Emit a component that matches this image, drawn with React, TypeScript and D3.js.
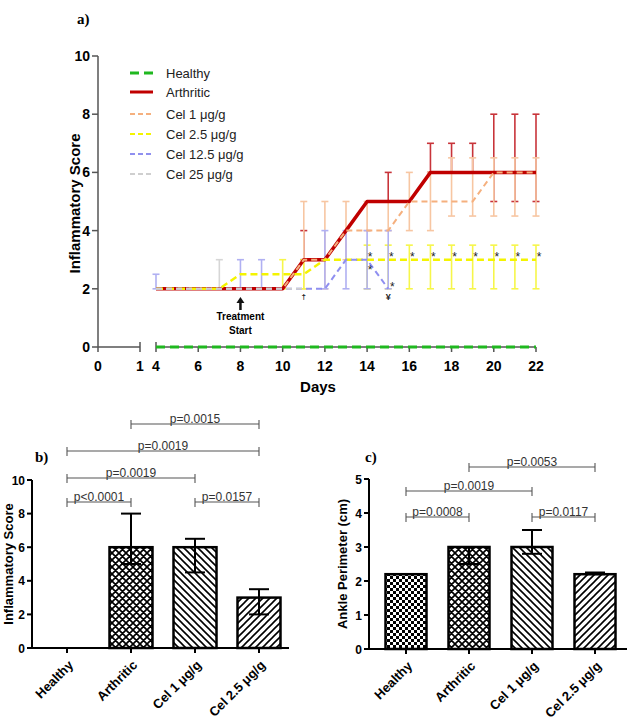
import React from "react";
import * as d3 from "d3";

// ---------- Panel a: time course ----------
const DAYS = [4, 5, 6, 7, 8, 9, 10, 11, 12, 13, 14, 15, 16, 17, 18, 19, 20, 21, 22];
const HEALTHY = [0, 0, 0, 0, 0, 0, 0, 0, 0, 0, 0, 0, 0, 0, 0, 0, 0, 0, 0];
const ARTHRITIC = [2, 2, 2, 2, 2, 2, 2, 3, 3, 4, 5, 5, 5, 6, 6, 6, 6, 6, 6];
const CEL_1 = [2, 2, 2, 2, 2, 2, 2, 3, 3, 4, 4, 4, 5, 5, 5, 5, 6, 6, 6];
const CEL_2_5 = [2, 2, 2, 2, 2.5, 2.5, 2.5, 2.5, 3, 3, 3, 3, 3, 3, 3, 3, 3, 3, 3];
const CEL_12_5 = [2, 2, 2, 2, 2, 2, 2, 2, 2, 3, 3, 2];
const CEL_25 = [2, 2, 2, 2, 2, 2, 2, 2];

// error bars: [day, low, high]
const ARTHRITIC_ERR: [number, number, number][] = [
  [11, 3, 4], [15, 5, 6], [17, 6, 7], [18, 6, 7], [19, 6, 7], [20, 5, 8], [21, 5, 8], [22, 5, 8],
];
const CEL_1_ERR: [number, number, number][] = [
  [11, 2, 5], [12, 2, 5], [13, 3, 5], [14, 4, 5], [15, 4, 5], [16, 4, 6], [17, 4, 6],
  [18, 4.5, 6.5], [19, 4.5, 6.5], [20, 4.5, 6.5], [21, 4.5, 6.5], [22, 4.5, 6.5],
];
const CEL_2_5_ERR: [number, number, number][] = [
  [10, 2, 3], [11, 2, 3], [14, 2, 3.5], [15, 2, 3.5], [16, 2, 3.5], [17, 2, 3.5], [18, 2, 3.5],
  [19, 2, 3.5], [20, 2, 3.5], [21, 2, 3.5], [22, 2, 3.5],
];
const CEL_12_5_ERR: [number, number, number][] = [
  [4, 2, 2.5], [8, 2, 3], [9, 2, 3], [12, 2, 4], [13, 2, 4], [14, 2, 4], [15, 2, 4],
];
const CEL_25_ERR: [number, number, number][] = [[7, 2, 3]];

const STAR_DAYS = [14, 15, 16, 17, 18, 19, 20, 21, 22];
const Y_TICKS_A = [0, 2, 4, 6, 8, 10];
const X_TICKS_A1 = [0, 1];
const X_TICKS_A2 = [4, 6, 8, 10, 12, 14, 16, 18, 20, 22];

// ---------- Panels b & c: bar charts ----------
const GROUPS = ["Healthy", "Arthritic", "Cel 1 μg/g", "Cel 2.5 μg/g"];
const SCORE = [0, 6, 6, 3];
const SCORE_LOW = [0, 5, 4.5, 2];
const SCORE_HIGH = [0, 8, 6.5, 3.5];
const ANKLE = [2.2, 3, 3, 2.2];
const ANKLE_LOW = [2.2, 2.5, 2.8, 2.2];
const ANKLE_HIGH = [2.2, 3, 3.5, 2.25];
const Y_TICKS_B = [0, 2, 4, 6, 8, 10];
const Y_TICKS_C = [0, 1, 2, 3, 4, 5];
const PATTERNS = ["checker", "cross", "back", "fwd"];

// [from group, to group, label]
const SIG_B: [number, number, string][] = [
  [0, 1, "p<0.0001"], [2, 3, "p=0.0157"], [0, 2, "p=0.0019"], [0, 3, "p=0.0019"], [1, 3, "p=0.0015"],
];
const SIG_B_Y = [502, 502, 478, 451, 424];
const SIG_C: [number, number, string][] = [
  [0, 1, "p=0.0008"], [2, 3, "p=0.0117"], [0, 2, "p=0.0019"], [1, 3, "p=0.0053"],
];
const SIG_C_Y = [517, 517, 491, 467];

const SANS = "'Liberation Sans', Arial, sans-serif";
const SERIF = "'Liberation Serif', 'Times New Roman', serif";

type Series = {
  name: string;
  values: number[];
  color: string;
  errColor: string;
  width: number;
  dash?: string;
  err: [number, number, number][];
};

const SERIES: Series[] = [
  { name: "Healthy", values: HEALTHY, color: "#1fb81f", errColor: "#1fb81f", width: 3, dash: "9 5", err: [] },
  { name: "Arthritic", values: ARTHRITIC, color: "#c00000", errColor: "#c8343a", width: 3.5, err: ARTHRITIC_ERR },
  { name: "Cel 1 μg/g", values: CEL_1, color: "#f5b07e", errColor: "#f7c6a2", width: 2, dash: "6 4", err: CEL_1_ERR },
  { name: "Cel 2.5 μg/g", values: CEL_2_5, color: "#f4f400", errColor: "#f6f64a", width: 2.5, dash: "7 4", err: CEL_2_5_ERR },
  { name: "Cel 12.5 μg/g", values: CEL_12_5, color: "#8f8ff0", errColor: "#b0b0f2", width: 2, dash: "6 4", err: CEL_12_5_ERR },
  { name: "Cel 25 μg/g", values: CEL_25, color: "#cfcfcf", errColor: "#d6d6d6", width: 2, dash: "6 4", err: CEL_25_ERR },
];

function PanelA() {
  const y = d3.scaleLinear().domain([0, 10]).range([347, 56]);
  const x1 = d3.scaleLinear().domain([0, 1]).range([98, 140]);
  const x2 = d3.scaleLinear().domain([4, 22]).range([156, 536]);
  const axisColor = "#555";

  const line = d3
    .line<[number, number]>()
    .x((d) => x2(d[0]))
    .y((d) => y(d[1]));

  // error bars below the lines
  const errBars = SERIES.flatMap((s, si) =>
    s.err.map(([d, lo, hi], i) => (
      <g key={`e${si}-${i}`} stroke={s.errColor} strokeWidth={1.6} fill="none">
        <line x1={x2(d)} x2={x2(d)} y1={y(lo)} y2={y(hi)} />
        <line x1={x2(d) - 3.5} x2={x2(d) + 3.5} y1={y(hi)} y2={y(hi)} />
        <line x1={x2(d) - 3.5} x2={x2(d) + 3.5} y1={y(lo)} y2={y(lo)} />
      </g>
    ))
  );

  const legendY = [73, 92, 114, 134, 154, 174];

  return (
    <g>
      <text x={77} y={24} fontFamily={SERIF} fontWeight="bold" fontSize={15}>a)</text>

      {/* y axis */}
      <line x1={x1(0)} x2={x1(0)} y1={y(10)} y2={y(0)} stroke={axisColor} strokeWidth={1.5} />
      {Y_TICKS_A.map((t) => (
        <g key={`yt${t}`}>
          <line x1={x1(0) - 6} x2={x1(0)} y1={y(t)} y2={y(t)} stroke={axisColor} strokeWidth={1.5} />
          <text x={x1(0) - 8} y={y(t) + 5} textAnchor="end" fontFamily={SANS} fontWeight="bold" fontSize={14}>
            {t}
          </text>
        </g>
      ))}
      <text
        transform={`translate(80,${(y(10) + y(0)) / 2 + 2}) rotate(-90)`}
        textAnchor="middle"
        fontFamily={SANS}
        fontWeight="bold"
        fontSize={15}
      >
        Inflammatory Score
      </text>

      {/* broken x axis */}
      <line x1={x1(0)} x2={x1(1)} y1={y(0)} y2={y(0)} stroke={axisColor} strokeWidth={1.5} />
      <line x1={x2(4)} x2={x2(22)} y1={y(0)} y2={y(0)} stroke={axisColor} strokeWidth={1.5} />
      <line x1={x1(0)} x2={x1(0)} y1={y(0)} y2={y(0) + 5} stroke={axisColor} strokeWidth={1.5} />
      <line x1={x1(1)} x2={x1(1)} y1={y(0) - 5} y2={y(0) + 5} stroke={axisColor} strokeWidth={1.5} />
      <line x1={x2(4)} x2={x2(4)} y1={y(0) - 5} y2={y(0) + 5} stroke={axisColor} strokeWidth={1.5} />
      {X_TICKS_A2.slice(1).map((t) => (
        <line key={`xt${t}`} x1={x2(t)} x2={x2(t)} y1={y(0)} y2={y(0) + 5} stroke={axisColor} strokeWidth={1.5} />
      ))}
      {X_TICKS_A1.map((t) => (
        <text key={`xl1${t}`} x={x1(t)} y={371} textAnchor="middle" fontFamily={SANS} fontWeight="bold" fontSize={14}>
          {t}
        </text>
      ))}
      {X_TICKS_A2.map((t) => (
        <text key={`xl2${t}`} x={x2(t)} y={371} textAnchor="middle" fontFamily={SANS} fontWeight="bold" fontSize={14}>
          {t}
        </text>
      ))}
      <text x={318} y={392} textAnchor="middle" fontFamily={SANS} fontWeight="bold" fontSize={15}>
        Days
      </text>

      {errBars}

      {/* series lines */}
      {SERIES.map((s, si) => (
        <path
          key={`s${si}`}
          d={line(s.values.map((v, i) => [DAYS[i], v] as [number, number])) || ""}
          fill="none"
          stroke={s.color}
          strokeWidth={s.width}
          strokeDasharray={s.dash}
          strokeLinejoin="round"
        />
      ))}

      {/* significance marks */}
      {STAR_DAYS.map((d) => (
        <text key={`st${d}`} x={x2(d) + 3} y={261} textAnchor="middle" fontFamily={SANS} fontSize={12} fill="#222">
          *
        </text>
      ))}
      <text x={x2(14) + 3} y={274} textAnchor="middle" fontFamily={SANS} fontSize={12} fill="#222">*</text>
      <text x={x2(15) + 4} y={291} textAnchor="middle" fontFamily={SANS} fontSize={12} fill="#222">*</text>
      <text x={x2(15)} y={300} textAnchor="middle" fontFamily={SANS} fontWeight="bold" fontSize={9} fill="#222">¥</text>
      <text x={x2(11)} y={299} textAnchor="middle" fontFamily={SANS} fontWeight="bold" fontSize={8} fill="#222">†</text>

      {/* treatment start */}
      <line x1={x2(8)} x2={x2(8)} y1={310} y2={302} stroke="#111" strokeWidth={2.5} />
      <path d={`M${x2(8) - 4},${303} L${x2(8)},${297} L${x2(8) + 4},${303} Z`} fill="#111" />
      <text x={x2(8)} y={320} textAnchor="middle" fontFamily={SANS} fontWeight="bold" fontSize={10}>Treatment</text>
      <text x={x2(8)} y={334} textAnchor="middle" fontFamily={SANS} fontWeight="bold" fontSize={10}>Start</text>

      {/* legend */}
      {SERIES.map((s, i) => (
        <g key={`lg${i}`}>
          <line
            x1={130}
            x2={153}
            y1={legendY[i]}
            y2={legendY[i]}
            stroke={s.color}
            strokeWidth={i < 2 ? 3 : 1.8}
            strokeDasharray={i === 0 ? "9 5" : i === 1 ? undefined : "5 3"}
          />
          <text x={166} y={legendY[i] + 5} fontFamily={SANS} fontSize={13} fill="#222">
            {s.name}
          </text>
        </g>
      ))}
    </g>
  );
}

type BarProps = {
  label: string;
  labelX: number;
  axisX: number;
  axisEnd: number;
  centers: [number, number];
  yRange: [number, number];
  yMax: number;
  yTicks: number[];
  yTitle: string;
  yTitleX: number;
  values: number[];
  lows: number[];
  highs: number[];
  barW: number;
  sig: [number, number, string][];
  sigY: number[];
};

function BarPanel(p: BarProps) {
  const x = d3.scalePoint<string>().domain(GROUPS).range(p.centers);
  const y = d3.scaleLinear().domain([0, p.yMax]).range(p.yRange);
  const y0 = y(0);
  return (
    <g>
      <text x={p.labelX} y={462} fontFamily={SERIF} fontWeight="bold" fontSize={15}>{p.label}</text>

      {/* bars */}
      {GROUPS.map((g, i) => {
        if (p.values[i] <= 0) return null;
        const cx = x(g) as number;
        return (
          <rect
            key={`b${i}`}
            x={cx - p.barW / 2}
            y={y(p.values[i])}
            width={p.barW}
            height={y0 - y(p.values[i])}
            fill={`url(#${PATTERNS[i]})`}
            stroke="#000"
            strokeWidth={2.5}
          />
        );
      })}

      {/* error bars */}
      {GROUPS.map((g, i) => {
        if (p.values[i] <= 0 || i === 0) return null;
        const cx = x(g) as number;
        return (
          <g key={`eb${i}`} stroke="#000" strokeWidth={2}>
            <line x1={cx} x2={cx} y1={y(p.lows[i])} y2={y(p.highs[i])} />
            <line x1={cx - 10} x2={cx + 10} y1={y(p.highs[i])} y2={y(p.highs[i])} />
            <line x1={cx - 10} x2={cx + 10} y1={y(p.lows[i])} y2={y(p.lows[i])} />
          </g>
        );
      })}

      {/* axes */}
      <line x1={p.axisX} x2={p.axisX} y1={y(p.yMax)} y2={y0 + 1} stroke="#000" strokeWidth={2} />
      <line x1={p.axisX - 1} x2={p.axisEnd} y1={y0} y2={y0} stroke="#000" strokeWidth={2} />
      {p.yTicks.map((t) => (
        <g key={`t${t}`}>
          <line x1={p.axisX - 5} x2={p.axisX} y1={y(t)} y2={y(t)} stroke="#000" strokeWidth={2} />
          <text x={p.axisX - 7} y={y(t) + 4.5} textAnchor="end" fontFamily={SANS} fontWeight="bold" fontSize={12}>
            {t}
          </text>
        </g>
      ))}
      {GROUPS.map((g, i) => {
        const cx = x(g) as number;
        return (
          <g key={`xl${i}`}>
            <line x1={cx} x2={cx} y1={y0} y2={y0 + 5} stroke="#000" strokeWidth={2} />
            <text
              transform={`translate(${cx + 7},${y0 + 18}) rotate(-45)`}
              textAnchor="end"
              fontFamily={SANS}
              fontWeight="bold"
              fontSize={13}
            >
              {g}
            </text>
          </g>
        );
      })}
      <text
        transform={`translate(${p.yTitleX},${(y(p.yMax) + y0) / 2}) rotate(-90)`}
        textAnchor="middle"
        fontFamily={SANS}
        fontWeight="bold"
        fontSize={13}
      >
        {p.yTitle}
      </text>

      {/* comparison brackets */}
      {p.sig.map(([a, b, txt], i) => {
        const xa = x(GROUPS[a]) as number;
        const xb = x(GROUPS[b]) as number;
        const yy = p.sigY[i];
        return (
          <g key={`sg${i}`}>
            <g stroke="#555" strokeWidth={1.1}>
              <line x1={xa} x2={xb} y1={yy} y2={yy} />
              <line x1={xa} x2={xa} y1={yy - 4} y2={yy + 5} />
              <line x1={xb} x2={xb} y1={yy - 4} y2={yy + 5} />
            </g>
            <text x={(xa + xb) / 2} y={yy - 1.5} textAnchor="middle" fontFamily={SANS} fontSize={12} fill="#333">
              {txt}
            </text>
          </g>
        );
      })}
    </g>
  );
}

export default function App() {
  return (
    <svg
      width={635}
      height={722}
      viewBox="0 0 635 722"
      style={{ position: "absolute", left: 0, top: 0, background: "#fff" }}
    >
      <defs>
        <pattern id="checker" width={6} height={6} patternUnits="userSpaceOnUse">
          <rect width={6} height={6} fill="#fff" />
          <rect width={3} height={3} fill="#000" />
          <rect x={3} y={3} width={3} height={3} fill="#000" />
        </pattern>
        <pattern id="cross" width={7} height={7} patternUnits="userSpaceOnUse">
          <rect width={7} height={7} fill="#fff" />
          <path d="M0,0 L7,7 M7,0 L0,7 M-1,6 L1,8 M6,-1 L8,1 M-1,1 L1,-1 M6,8 L8,6" stroke="#000" strokeWidth={1.7} />
        </pattern>
        <pattern id="back" width={7} height={7} patternUnits="userSpaceOnUse">
          <rect width={7} height={7} fill="#fff" />
          <path d="M0,0 L7,7 M-1,6 L1,8 M6,-1 L8,1" stroke="#000" strokeWidth={1.6} />
        </pattern>
        <pattern id="fwd" width={7} height={7} patternUnits="userSpaceOnUse">
          <rect width={7} height={7} fill="#fff" />
          <path d="M7,0 L0,7 M-1,1 L1,-1 M6,8 L8,6" stroke="#000" strokeWidth={1.6} />
        </pattern>
      </defs>
      <rect width={635} height={722} fill="#fff" />
      <PanelA />
      <BarPanel
        label="b)"
        labelX={35}
        axisX={32}
        axisEnd={289}
        centers={[67, 259]}
        yRange={[648, 480]}
        yMax={10}
        yTicks={Y_TICKS_B}
        yTitle="Inflammatory Score"
        yTitleX={13}
        values={SCORE}
        lows={SCORE_LOW}
        highs={SCORE_HIGH}
        barW={43}
        sig={SIG_B}
        sigY={SIG_B_Y}
      />
      <BarPanel
        label="c)"
        labelX={365}
        axisX={369}
        axisEnd={627}
        centers={[406, 595]}
        yRange={[649, 479]}
        yMax={5}
        yTicks={Y_TICKS_C}
        yTitle="Ankle Perimeter (cm)"
        yTitleX={347}
        values={ANKLE}
        lows={ANKLE_LOW}
        highs={ANKLE_HIGH}
        barW={41}
        sig={SIG_C}
        sigY={SIG_C_Y}
      />
    </svg>
  );
}
